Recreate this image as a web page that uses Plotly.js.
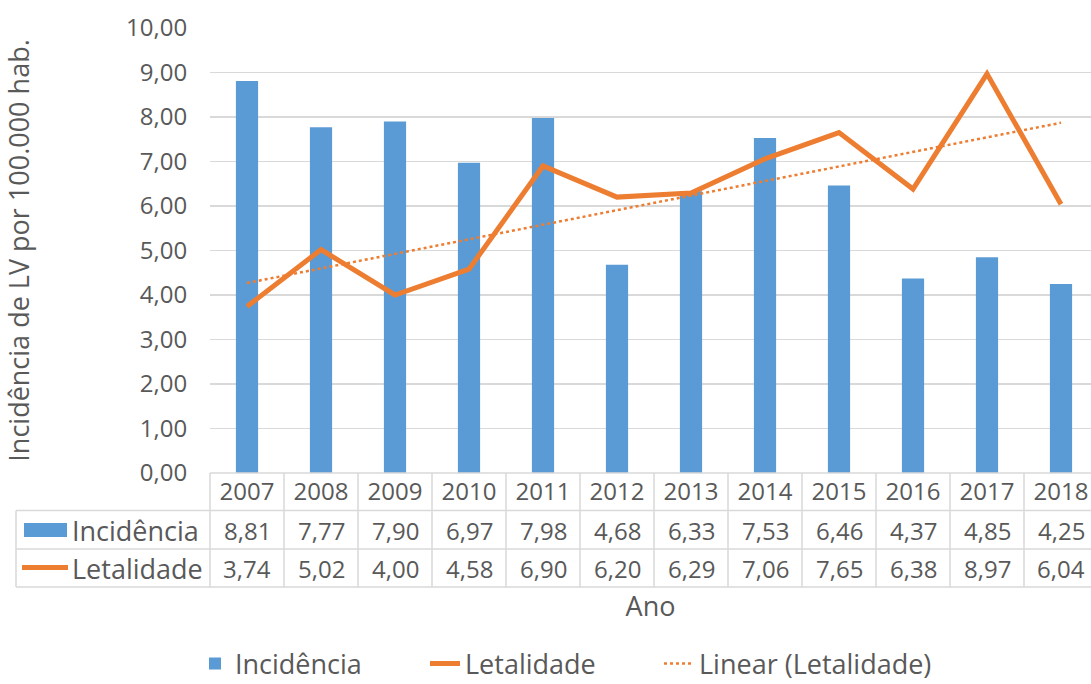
<!DOCTYPE html>
<html>
<head>
<meta charset="utf-8">
<script src="https://cdn.plot.ly/plotly-3.0.1.min.js"></script>
<style>
html,body{margin:0;padding:0;background:#fff;overflow:hidden}
#chart{width:1091px;height:684px}
</style>
</head>
<body>
<div id="chart"></div>
<script>
// ---- data ----
const years = ['2007','2008','2009','2010','2011','2012','2013','2014','2015','2016','2017','2018'];
const incidencia = [8.81,7.77,7.90,6.97,7.98,4.68,6.33,7.53,6.46,4.37,4.85,4.25];
const letalidade = [3.74,5.02,4.00,4.58,6.90,6.20,6.29,7.06,7.65,6.38,8.97,6.04];
const trendYears = ['2007','2018'];
const trendValues = [4.27,7.87];
const yTickValues = [0,1,2,3,4,5,6,7,8,9,10];
const yTickLabels = ['0,00','1,00','2,00','3,00','4,00','5,00','6,00','7,00','8,00','9,00','10,00'];
const seriesNames = ['Incidência','Letalidade','Linear (Letalidade)'];
const yTitle = 'Incidência de LV por 100.000 hab.';
const xTitle = 'Ano';

// ---- styling / geometry ----
const FONT = 'Open Sans, Lato, sans-serif';
const GREY = '#595959';
const GRID = '#D9D9D9';
const BLUE = '#5B9BD5';
const ORANGE = '#ED7D31';
const NUM_SIZE = 24, WORD_SIZE = 27;
const W = 1091, H = 684;
const L = 210, T = 28, AXIS_Y = 473;
const plotW = W - L, plotH = AXIS_Y - T;
const colW = 74;
const xRange = [-0.5, -0.5 + plotW / colW];

const paperX = px => (px - L) / plotW;
const paperY = py => (AXIS_Y - py) / plotH;
const catPaperX = c => (c - xRange[0]) / (xRange[1] - xRange[0]);
const fmt = v => v.toFixed(2).replace('.', ',');

const rowLines = [AXIS_Y, 510.5, 549, 587];
const row1 = 530, row2 = 568.5;

const shapes = [];
rowLines.forEach((py, i) => {
  shapes.push({type:'line', xref:'paper', yref:'paper',
    x0: i === 0 ? 0 : paperX(16), x1: 1, y0: paperY(py), y1: paperY(py),
    line:{color:GRID, width:1.5}});
});
shapes.push({type:'line', xref:'paper', yref:'paper', x0:paperX(16), x1:paperX(16),
  y0:paperY(510.5), y1:paperY(587), line:{color:GRID, width:1.5}});
years.forEach((y, k) => {
  shapes.push({type:'line', xref:'paper', yref:'paper', x0:catPaperX(k-0.5), x1:catPaperX(k-0.5),
    y0:paperY(AXIS_Y), y1:paperY(587), line:{color:GRID, width:1.5}});
});
shapes.push({type:'rect', xref:'paper', yref:'paper', x0:paperX(24), x1:paperX(67),
  y0:paperY(537), y1:paperY(523), fillcolor:BLUE, line:{width:0}});
shapes.push({type:'line', xref:'paper', yref:'paper', x0:paperX(22), x1:paperX(68),
  y0:paperY(567.5), y1:paperY(567.5), line:{color:ORANGE, width:5}});

const annotations = [];
years.forEach((y, i) => {
  annotations.push({xref:'x', yref:'paper', x:i, y:paperY(row1), text:fmt(incidencia[i]),
    showarrow:false, font:{family:FONT, size:NUM_SIZE, color:GREY}, xanchor:'center', yanchor:'middle'});
  annotations.push({xref:'x', yref:'paper', x:i, y:paperY(row2), text:fmt(letalidade[i]),
    showarrow:false, font:{family:FONT, size:NUM_SIZE, color:GREY}, xanchor:'center', yanchor:'middle'});
});
annotations.push({xref:'paper', yref:'paper', x:paperX(70), y:paperY(row1), text:seriesNames[0],
  showarrow:false, xanchor:'left', yanchor:'middle', font:{family:FONT, size:WORD_SIZE, color:GREY}});
annotations.push({xref:'paper', yref:'paper', x:paperX(70), y:paperY(row2), text:seriesNames[1],
  showarrow:false, xanchor:'left', yanchor:'middle', font:{family:FONT, size:WORD_SIZE, color:GREY}});

const traces = [
  {type:'bar', x:years, y:incidencia, name:seriesNames[0], marker:{color:BLUE}, hoverinfo:'skip', legend:'legend'},
  {type:'scatter', mode:'lines', x:years, y:letalidade, name:seriesNames[1],
    line:{color:ORANGE, width:5}, hoverinfo:'skip', legend:'legend2'},
  {type:'scatter', mode:'lines', x:trendYears, y:trendValues, name:seriesNames[2],
    line:{color:ORANGE, width:2.5, dash:'dot'}, hoverinfo:'skip', legend:'legend3'}
];

const LEG_Y = 664;
const legendAt = px => ({orientation:'h', x:paperX(px), xanchor:'left', y:paperY(LEG_Y), yanchor:'middle',
  bgcolor:'rgba(0,0,0,0)', font:{family:FONT, size:WORD_SIZE, color:GREY}});

const layout = {
  width:W, height:H,
  margin:{l:L, r:0, t:T, b:H-AXIS_Y, autoexpand:false},
  paper_bgcolor:'#fff', plot_bgcolor:'#fff',
  font:{family:FONT, color:GREY, size:NUM_SIZE},
  bargap:0.7,
  showlegend:true,
  legend:legendAt(195),
  legend2:legendAt(425),
  legend3:legendAt(659),
  xaxis:{type:'category', range:xRange, showgrid:false, zeroline:false, showline:false,
    ticks:'outside', ticklen:1, tickcolor:'rgba(0,0,0,0)', ticklabelstandoff:-4,
    tickfont:{family:FONT, size:NUM_SIZE, color:GREY},
    title:{text:xTitle, standoff:91, font:{family:FONT, size:WORD_SIZE, color:GREY}}},
  yaxis:{range:[0,10], tickvals:yTickValues, ticktext:yTickLabels,
    showgrid:true, gridcolor:GRID, gridwidth:1.5, zeroline:false, showline:false,
    ticks:'outside', ticklen:17, tickcolor:'rgba(0,0,0,0)',
    tickfont:{family:FONT, size:NUM_SIZE, color:GREY},
    title:{text:yTitle, standoff:88, font:{family:FONT, size:WORD_SIZE, color:GREY}}},
  shapes:shapes,
  annotations:annotations
};

Plotly.newPlot('chart', traces, layout, {displayModeBar:false, staticPlot:true});
</script>
</body>
</html>
